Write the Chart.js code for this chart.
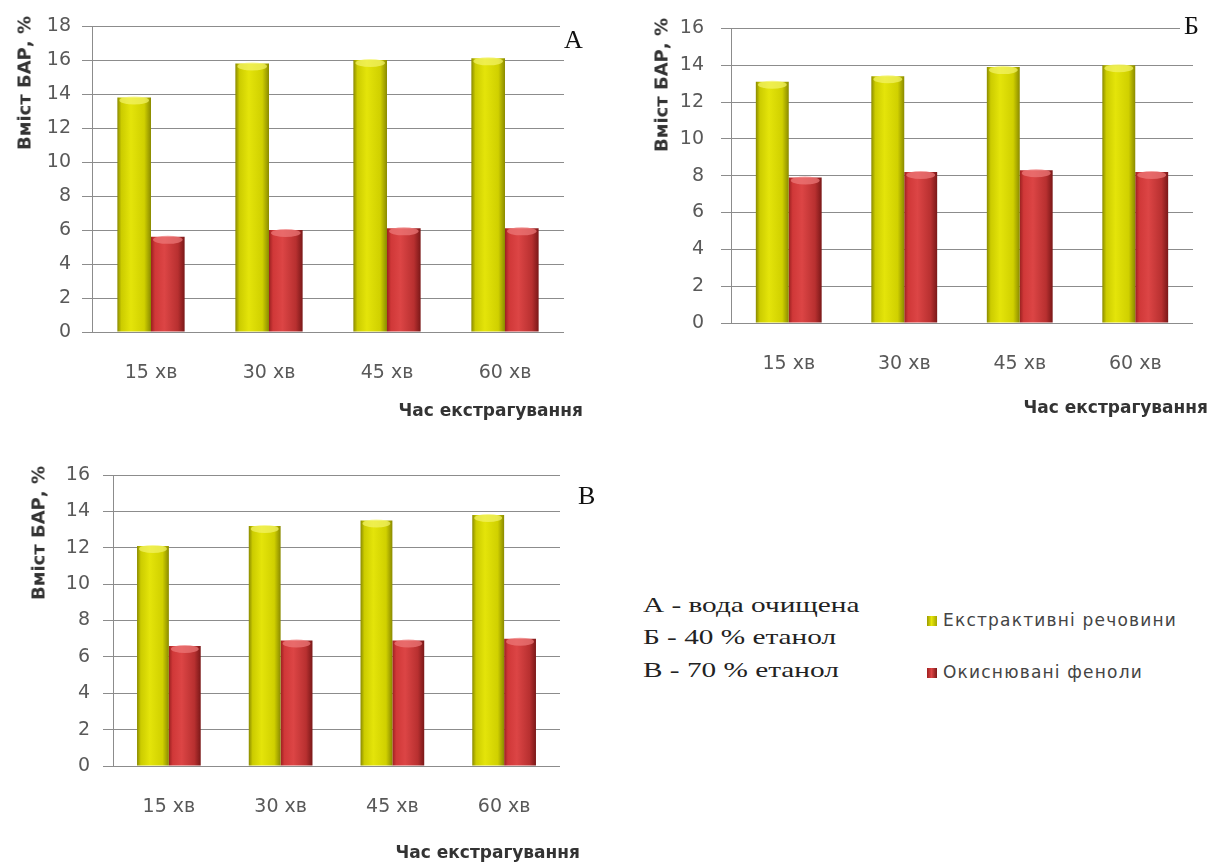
<!DOCTYPE html>
<html>
<head>
<meta charset="utf-8">
<script src="https://cdn.jsdelivr.net/npm/chart.js@4"></script>
<style>
  body { margin: 0; background: #fff; width: 1212px; height: 867px; position: relative; overflow: hidden; }
  canvas { position: absolute; }
  .tag { position: absolute; font-family: "Liberation Serif", serif; font-size: 26px; color: #111; background: #fff; padding: 0 4px; line-height: 28px; }
  .ytitle { position: absolute; font-family: "DejaVu Sans", sans-serif; font-weight: bold; font-size: 18px; color: #333;
            white-space: nowrap; transform: translate(-50%, -50%) rotate(-90deg); }
  .xtitle { position: absolute; font-family: "DejaVu Sans", sans-serif; font-weight: bold; font-size: 17px; color: #333;
            white-space: nowrap; line-height: 20px; }
  .note { position: absolute; left: 643px; font-family: "Liberation Serif", serif; font-size: 22px; color: #222; white-space: nowrap;
          transform-origin: 0 50%; transform: scaleX(1.33); line-height: 26px; }
  .key { position: absolute; left: 927px; font-family: "DejaVu Sans", sans-serif; font-size: 17px; color: #444; white-space: nowrap; line-height: 20px; letter-spacing: 1.2px; }
  .key i { display: inline-block; width: 10px; height: 10px; margin-right: 6px; vertical-align: 0px; }
</style>
</head>
<body>
<canvas id="chartA" width="600" height="420" style="left:0;top:0"></canvas>
<canvas id="chartB" width="612" height="420" style="left:600px;top:0"></canvas>
<canvas id="chartC" width="600" height="427" style="left:0;top:440px"></canvas>

<div class="tag" style="left:560px;top:26px">А</div>
<div class="tag" style="left:1180px;top:12px">Б</div>
<div class="tag" style="left:574px;top:482px">В</div>

<div class="ytitle" style="left:24px;top:83px">Вміст БАР, %</div>
<div class="ytitle" style="left:661px;top:85px">Вміст БАР, %</div>
<div class="ytitle" style="left:38px;top:533px">Вміст БАР, %</div>

<div class="xtitle" style="right:629px;top:400px">Час екстрагування</div>
<div class="xtitle" style="right:4px;top:397px">Час екстрагування</div>
<div class="xtitle" style="right:632px;top:842px">Час екстрагування</div>

<div class="note" style="top:592px">А - вода очищена</div>
<div class="note" style="top:624px">Б - 40 % етанол</div>
<div class="note" style="top:657px">В - 70 % етанол</div>

<div class="key" style="top:610px"><i style="background:linear-gradient(90deg,#9a9a00,#e6e60a 45%,#a5a500)"></i><span id="key0"></span></div>
<div class="key" style="top:662px"><i style="background:linear-gradient(90deg,#a02020,#dc4545 45%,#7a1818)"></i><span id="key1"></span></div>

<script>
const categories = ['15 хв', '30 хв', '45 хв', '60 хв'];
const seriesNames = ['Екстрактивні речовини', 'Окиснювані феноли'];

// А - вода очищена
const extractA = [13.8, 15.8, 16.0, 16.1];
const phenolA = [5.6, 6.0, 6.1, 6.1];
// Б - 40 % етанол
const extractB = [13.1, 13.4, 13.9, 14.0];
const phenolB = [7.9, 8.2, 8.3, 8.2];
// В - 70 % етанол
const extractC = [12.1, 13.2, 13.5, 13.8];
const phenolC = [6.6, 6.9, 6.9, 7.0];

const yMaxA = 18;
const yMaxB = 16;
const yMaxC = 16;
const yStep = 2;

document.getElementById('key0').textContent = seriesNames[0];
document.getElementById('key1').textContent = seriesNames[1];

const yellow = ['#8a8a00', '#cccc00', '#e4e40a', '#d0d000', '#8a8a00', '#f4f46a'];
const red = ['#9c2020', '#d03838', '#dc4545', '#b83030', '#7a1818', '#ee7a7a'];
const tickColor = '#595959';
const gridColor = '#8c8c8c';

// horizontal shading across each bar, like the cylinder bars of the original
function barFill(c) {
  return function(ctx) {
    const el = ctx.element;
    if (!el || !isFinite(el.x) || !isFinite(el.width)) return c[2];
    const g = ctx.chart.ctx.createLinearGradient(el.x - el.width / 2, 0, el.x + el.width / 2, 0);
    g.addColorStop(0, c[0]);
    g.addColorStop(0.12, c[1]);
    g.addColorStop(0.4, c[2]);
    g.addColorStop(0.8, c[3]);
    g.addColorStop(1, c[4]);
    return g;
  };
}

// light cap on top of every bar
const capPlugin = {
  id: 'caps',
  afterDatasetsDraw(chart) {
    const ctx = chart.ctx;
    chart.data.datasets.forEach((ds, i) => {
      const c = i === 0 ? yellow : red;
      chart.getDatasetMeta(i).data.forEach(el => {
        ctx.save();
        ctx.beginPath();
        ctx.ellipse(el.x, el.y + 3, el.width / 2 - 2, 4, 0, 0, Math.PI * 2);
        ctx.fillStyle = c[5];
        ctx.globalAlpha = 0.7;
        ctx.fill();
        ctx.restore();
      });
    });
  }
};

function makeChart(id, extract, phenol, yMax, box) {
  const chart = new Chart(document.getElementById(id), {
    type: 'bar',
    data: {
      labels: categories,
      datasets: [
        { label: seriesNames[0], data: extract, backgroundColor: barFill(yellow) },
        { label: seriesNames[1], data: phenol, backgroundColor: barFill(red) }
      ]
    },
    options: {
      responsive: false,
      animation: false,
      layout: { padding: { top: box.top, right: box.right, left: 0, bottom: 0 } },
      datasets: { bar: { categoryPercentage: 0.57, barPercentage: 1.0 } },
      plugins: { legend: { display: false }, tooltip: { enabled: false } },
      scales: {
        x: {
          grid: { display: false, drawTicks: false },
          border: { display: false },
          ticks: { color: tickColor, font: { family: 'DejaVu Sans', size: 19 }, padding: 30 },
          afterFit: s => { s.height = box.xh; }
        },
        y: {
          min: 0,
          max: yMax,
          ticks: { stepSize: yStep, color: tickColor, font: { family: 'DejaVu Sans', size: 19 }, padding: box.tp },
          grid: { color: gridColor, tickLength: 10 },
          border: { color: gridColor },
          afterFit: s => { s.width = box.left; }
        }
      }
    },
    plugins: [capPlugin]
  });
  chart.update();
  return chart;
}

makeChart('chartA', extractA, phenolA, yMaxA, { left: 92, right: 36, top: 26, xh: 88, tp: 11 });
makeChart('chartB', extractB, phenolB, yMaxB, { left: 131, right: 19, top: 28, xh: 97, tp: 17 });
makeChart('chartC', extractC, phenolC, yMaxC, { left: 113, right: 40, top: 35, xh: 101, tp: 13 });
</script>
</body>
</html>
